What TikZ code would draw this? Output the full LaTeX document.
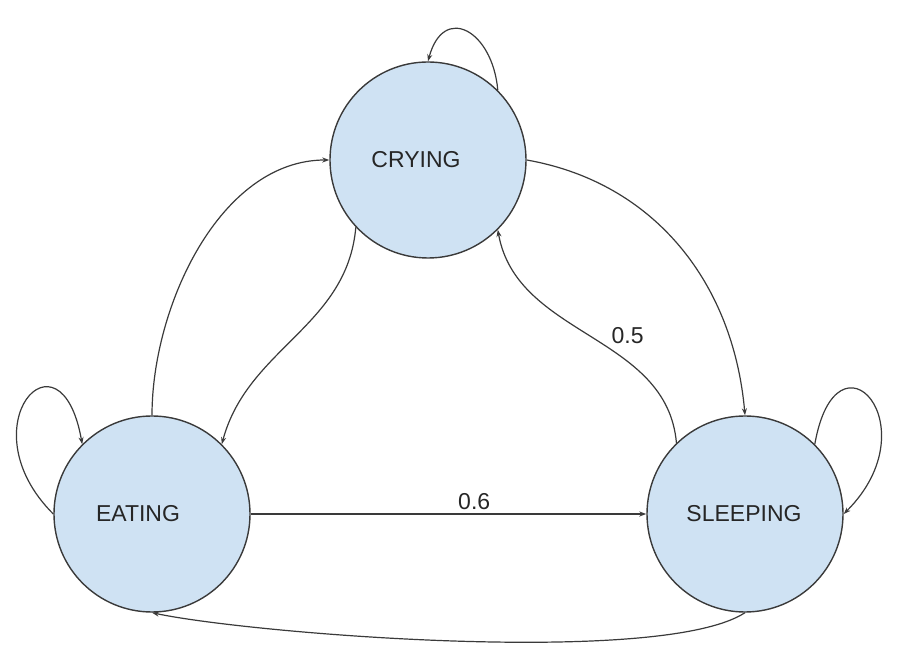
\documentclass[tikz,border=0pt]{standalone}
\usepackage{fontspec}
\setmainfont{Liberation Sans}
\usetikzlibrary{arrows.meta}
\definecolor{stfill}{HTML}{CFE2F3}
\definecolor{stline}{HTML}{3A3A3A}
\begin{document}
\begin{tikzpicture}[x=1pt,y=1pt,>={Stealth[length=7pt,width=5pt]},
	state/.style={circle,draw=stline,fill=stfill,line width=1.4pt,minimum size=196pt,inner sep=0pt},
	edge/.style={->,draw=stline,line width=1.2pt},
	every node/.style={font=\fontsize{23}{27}\selectfont,text=black!85}]
	\useasboundingbox (0,0) rectangle (910,661);
	\node[state,label={[xshift=-12pt]center:CRYING}] (cry) at (428,501) {};
	\node[state,label={[xshift=-14pt]center:EATING}] (eat) at (152,147) {};
	\node[state,label={[xshift=-1pt]center:SLEEPING}] (sle) at (745,147) {};
	% self loops
	\draw[edge] (cry.45) to[out=95,in=75,distance=60] (cry.90);
	\draw[edge] (eat.180) to[out=135,in=100,distance=125] (eat.135);
	\draw[edge] (sle.45) to[out=80,in=45,distance=125] (sle.0);
	% between states
	\draw[edge] (eat.90) to[out=90,in=180,looseness=0.9] (cry.180);
	\draw[edge] (cry.223) to[out=265,in=75] (eat.45);
	\draw[edge] (cry.0) to[out=-10,in=95] (sle.90);
	\draw[edge] (sle.134) to[out=95,in=-80] node[right=17pt]{0.5} (cry.-45);
	\draw[edge] (eat.0) -- node[pos=0.565,above]{0.6} (sle.180);
	\draw[edge] (sle.270) to[out=213,in=-12,distance=100] (eat.270);
\end{tikzpicture}
\end{document}
